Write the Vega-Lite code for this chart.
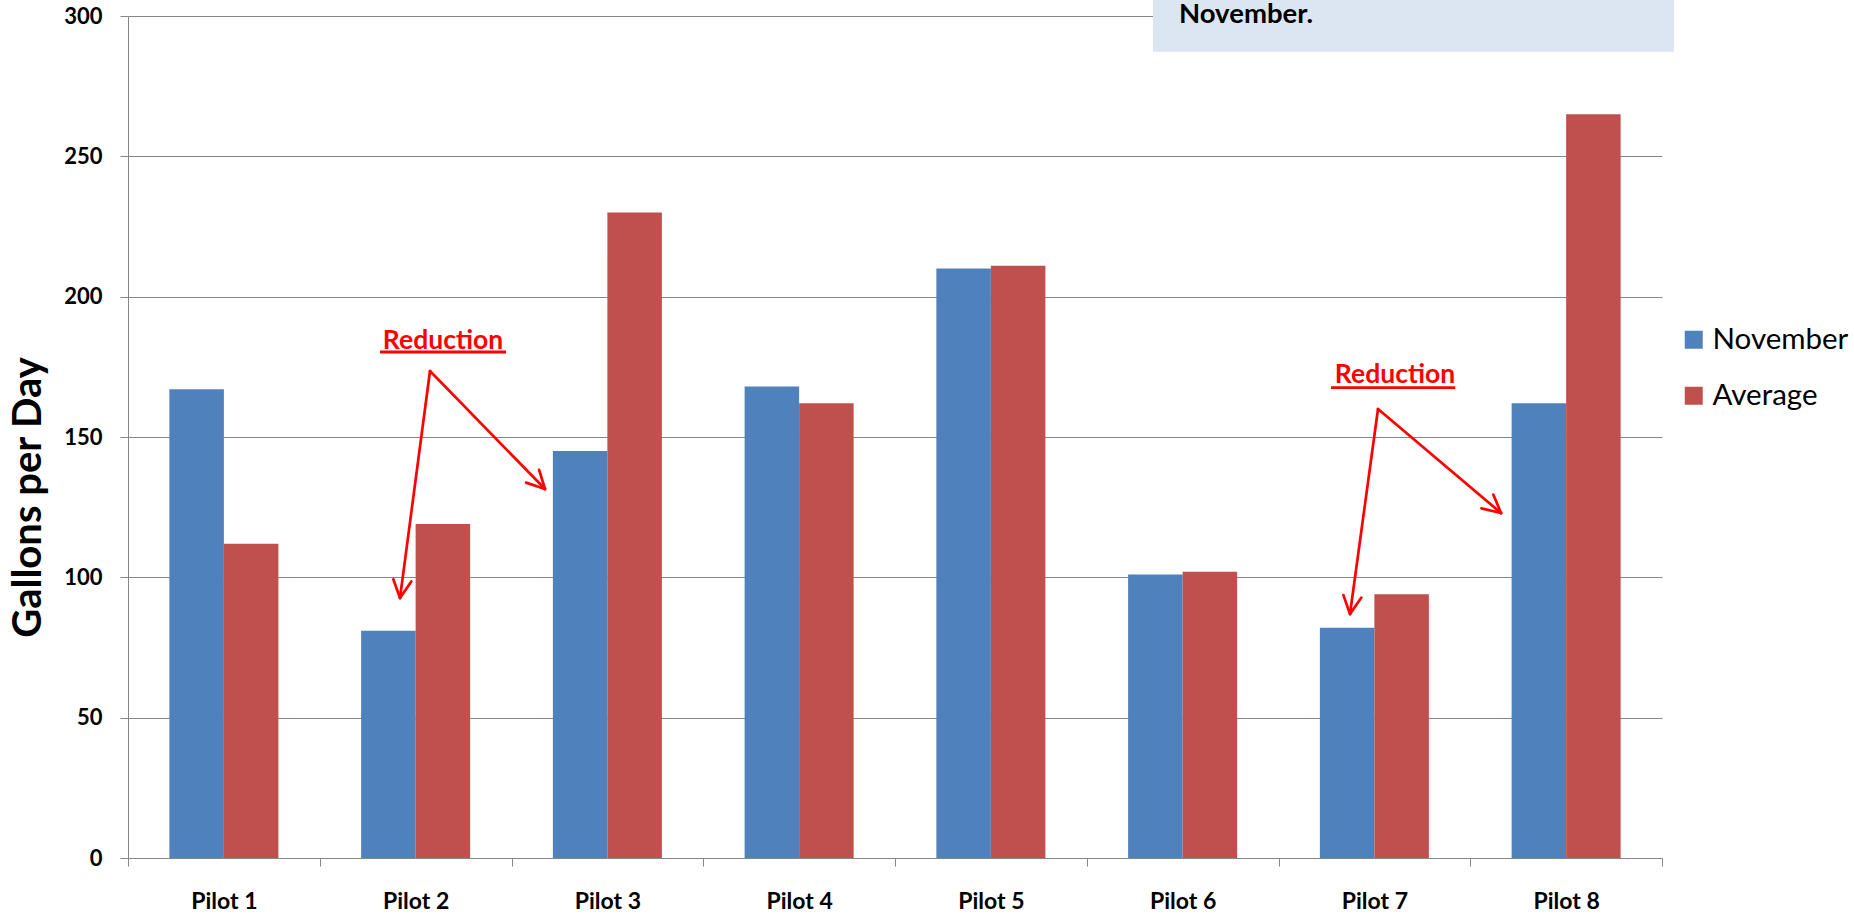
{
  "$schema": "https://vega.github.io/schema/vega-lite/v6.json",
  "width": 1534,
  "height": 842,
  "autosize": {"type": "none"},
  "padding": {"left": 128, "top": 16, "right": 192, "bottom": 57},
  "background": "white",
  "config": {"view": {"stroke": null}, "font": "Lato"},
  "datasets": {
    "bars": [
      {"pilot": "Pilot 1", "series": "November", "value": 167},
      {"pilot": "Pilot 1", "series": "Average", "value": 112},
      {"pilot": "Pilot 2", "series": "November", "value": 81},
      {"pilot": "Pilot 2", "series": "Average", "value": 119},
      {"pilot": "Pilot 3", "series": "November", "value": 145},
      {"pilot": "Pilot 3", "series": "Average", "value": 230},
      {"pilot": "Pilot 4", "series": "November", "value": 168},
      {"pilot": "Pilot 4", "series": "Average", "value": 162},
      {"pilot": "Pilot 5", "series": "November", "value": 210},
      {"pilot": "Pilot 5", "series": "Average", "value": 211},
      {"pilot": "Pilot 6", "series": "November", "value": 101},
      {"pilot": "Pilot 6", "series": "Average", "value": 102},
      {"pilot": "Pilot 7", "series": "November", "value": 82},
      {"pilot": "Pilot 7", "series": "Average", "value": 94},
      {"pilot": "Pilot 8", "series": "November", "value": 162},
      {"pilot": "Pilot 8", "series": "Average", "value": 265}
    ],
    "box": [{"x": 5.3455, "x2": 8.0626, "y": 287.3, "y2": 315}],
    "boxText": [{"x": 5.4811, "y": 297.4, "label": "November."}],
    "arrows": [
      {"x": 1.575, "y": 173.52, "x2": 1.4185, "y2": 92.64},
      {"x": 1.3836, "y": 99.34, "x2": 1.4185, "y2": 92.64},
      {"x": 1.4775, "y": 98.52, "x2": 1.4185, "y2": 92.64},
      {"x": 1.575, "y": 173.52, "x2": 2.1747, "y2": 131.47},
      {"x": 2.0761, "y": 133.75, "x2": 2.1747, "y2": 131.47},
      {"x": 2.1439, "y": 138.28, "x2": 2.1747, "y2": 131.47},
      {"x": 6.5189, "y": 159.98, "x2": 6.3729, "y2": 86.94},
      {"x": 6.3384, "y": 93.67, "x2": 6.3729, "y2": 86.94},
      {"x": 6.4323, "y": 92.78, "x2": 6.3729, "y2": 86.94},
      {"x": 6.5189, "y": 159.98, "x2": 7.1604, "y2": 122.92},
      {"x": 7.0587, "y": 124.56, "x2": 7.1604, "y2": 122.92},
      {"x": 7.1202, "y": 129.48, "x2": 7.1604, "y2": 122.92}
    ],
    "underlines": [
      {"x": 1.3142, "x2": 1.9713, "y": 180.29},
      {"x": 6.2738, "x2": 6.9218, "y": 167.57}
    ],
    "notes": [
      {"x": 1.6428, "y": 181.35, "label": "Reduction"},
      {"x": 6.6076, "y": 169.24, "label": "Reduction"}
    ]
  },
  "layer": [
    {
      "data": {"name": "bars"},
      "mark": {"type": "bar"},
      "encoding": {
        "x": {
          "field": "pilot",
          "type": "nominal",
          "sort": null,
          "scale": {"paddingInner": 0, "paddingOuter": 0},
          "axis": {
            "title": null,
            "labelAngle": 0,
            "tickBand": "extent",
            "tickSize": 8,
            "tickColor": "#868686",
            "domainColor": "#868686",
            "grid": false,
            "labelFont": "Lato",
            "labelFontWeight": "bold",
            "labelFontSize": 23,
            "labelColor": "#000000",
            "labelBaseline": "alphabetic",
            "labelPadding": 42
          }
        },
        "xOffset": {
          "field": "series",
          "type": "nominal",
          "sort": ["November", "Average"],
          "scale": {"paddingInner": 0, "paddingOuter": 0.759}
        },
        "y": {
          "field": "value",
          "type": "quantitative",
          "scale": {"domain": [0, 300], "nice": false},
          "axis": {
            "title": "Gallons per Day",
            "values": [0, 50, 100, 150, 200, 250, 300],
            "tickSize": 8,
            "tickColor": "#868686",
            "domainColor": "#868686",
            "gridColor": "#868686",
            "labelFont": "Lato",
            "labelFontWeight": "bold",
            "labelFontSize": 22,
            "labelColor": "#000000",
            "labelPadding": 18,
            "titleFont": "Lato",
            "titleFontSize": 40,
            "titleFontWeight": "bold",
            "titleColor": "#000000",
            "titleAngle": 270,
            "titleBaseline": "alphabetic",
            "titleAlign": "center",
            "titleX": -88,
            "titleY": 481
          }
        },
        "color": {
          "field": "series",
          "type": "nominal",
          "scale": {"domain": ["November", "Average"], "range": ["#4F81BD", "#C0504D"]},
          "legend": {
            "title": null,
            "orient": "none",
            "legendX": 1551,
            "legendY": 309,
            "symbolType": "square",
            "symbolSize": 324,
            "symbolStrokeWidth": 0,
            "labelFont": "Lato",
            "labelFontSize": 29.5,
            "labelColor": "#000000",
            "labelOffset": 4,
            "rowPadding": 25
          }
        }
      }
    },
    {
      "data": {"name": "box"},
      "mark": {"type": "rect", "color": "#DCE6F2"},
      "encoding": {
        "x": {"field": "x", "type": "quantitative", "scale": {"domain": [0, 8], "nice": false, "zero": false}, "axis": null},
        "x2": {"field": "x2"},
        "y": {"field": "y", "type": "quantitative", "scale": {"domain": [0, 300], "nice": false}},
        "y2": {"field": "y2"}
      }
    },
    {
      "data": {"name": "boxText"},
      "mark": {"type": "text", "font": "Lato", "fontWeight": "bold", "fontSize": 27.5, "color": "#000000", "align": "left", "baseline": "alphabetic"},
      "encoding": {
        "x": {"field": "x", "type": "quantitative", "scale": {"domain": [0, 8], "nice": false, "zero": false}, "axis": null},
        "y": {"field": "y", "type": "quantitative", "scale": {"domain": [0, 300], "nice": false}},
        "text": {"field": "label"}
      }
    },
    {
      "data": {"name": "arrows"},
      "mark": {"type": "rule", "color": "#FF0000", "strokeWidth": 2.7, "strokeCap": "round"},
      "encoding": {
        "x": {"field": "x", "type": "quantitative", "scale": {"domain": [0, 8], "nice": false, "zero": false}, "axis": null},
        "x2": {"field": "x2"},
        "y": {"field": "y", "type": "quantitative", "scale": {"domain": [0, 300], "nice": false}},
        "y2": {"field": "y2"}
      }
    },
    {
      "data": {"name": "underlines"},
      "mark": {"type": "rule", "color": "#FF0000", "strokeWidth": 2.8},
      "encoding": {
        "x": {"field": "x", "type": "quantitative", "scale": {"domain": [0, 8], "nice": false, "zero": false}, "axis": null},
        "x2": {"field": "x2"},
        "y": {"field": "y", "type": "quantitative", "scale": {"domain": [0, 300], "nice": false}}
      }
    },
    {
      "data": {"name": "notes"},
      "mark": {"type": "text", "font": "Lato", "fontWeight": "bold", "fontSize": 26.5, "color": "#FF0000", "align": "center", "baseline": "alphabetic"},
      "encoding": {
        "x": {"field": "x", "type": "quantitative", "scale": {"domain": [0, 8], "nice": false, "zero": false}, "axis": null},
        "y": {"field": "y", "type": "quantitative", "scale": {"domain": [0, 300], "nice": false}},
        "text": {"field": "label"}
      }
    }
  ],
  "resolve": {"scale": {"x": "independent"}}
}
